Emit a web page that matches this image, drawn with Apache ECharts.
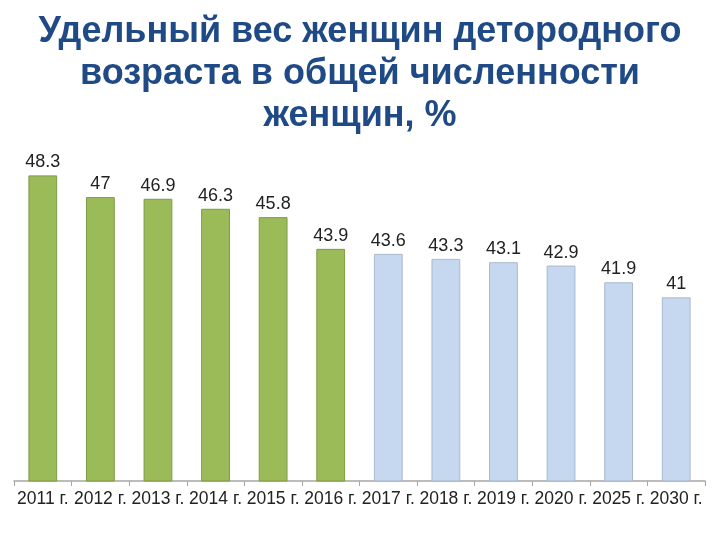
<!DOCTYPE html>
<html><head><meta charset="utf-8">
<script src="https://cdn.jsdelivr.net/npm/echarts@6/dist/echarts.min.js"></script>
<style>html,body{margin:0;padding:0;background:#fff}#c{width:720px;height:540px}</style>
</head><body><div id="c"></div>
<script>
const categories = ['2011 г.','2012 г.','2013 г.','2014 г.','2015 г.','2016 г.','2017 г.','2018 г.','2019 г.','2020 г.','2025 г.','2030 г.'];
const values = [48.3, 47, 46.9, 46.3, 45.8, 43.9, 43.6, 43.3, 43.1, 42.9, 41.9, 41];
const isForecast = [false,false,false,false,false,false,true,true,true,true,true,true];
const titleText = 'Удельный вес женщин детородного\nвозраста в общей численности\nженщин, %';

const chart = echarts.init(document.getElementById('c'));
chart.setOption({
  animation: false,
  title: {
    text: titleText, left: 'center', top: 6,
    textStyle: { fontFamily: 'Liberation Sans, Arial', fontSize: 36, fontWeight: 'bold', color: '#1F4A86', lineHeight: 42 }
  },
  grid: { left: 14, right: 15, top: 147, bottom: 59 },
  xAxis: {
    type: 'category', data: categories,
    axisLine: { lineStyle: { color: '#A6A6A6', width: 1.5 } },
    axisTick: { show: true, length: 5, lineStyle: { color: '#A6A6A6' } },
    axisLabel: { interval: 0, fontFamily: 'Liberation Sans, Arial', fontSize: 17.5, color: '#222', margin: 9 }
  },
  yAxis: { type: 'value', min: 30, max: 50, show: false, splitLine: { show: false } },
  series: [{
    type: 'bar', barWidth: '50%',
    data: values.map((v, i) => ({
      value: v,
      itemStyle: isForecast[i]
        ? { color: '#C6D8F0', borderColor: '#A9B9CC', borderWidth: 1 }
        : { color: '#9BBB59', borderColor: '#7E9A45', borderWidth: 1 }
    })),
    label: { show: true, position: 'top', distance: 4, fontFamily: 'Liberation Sans, Arial', fontSize: 18, color: '#222' }
  }]
});
</script></body></html>
